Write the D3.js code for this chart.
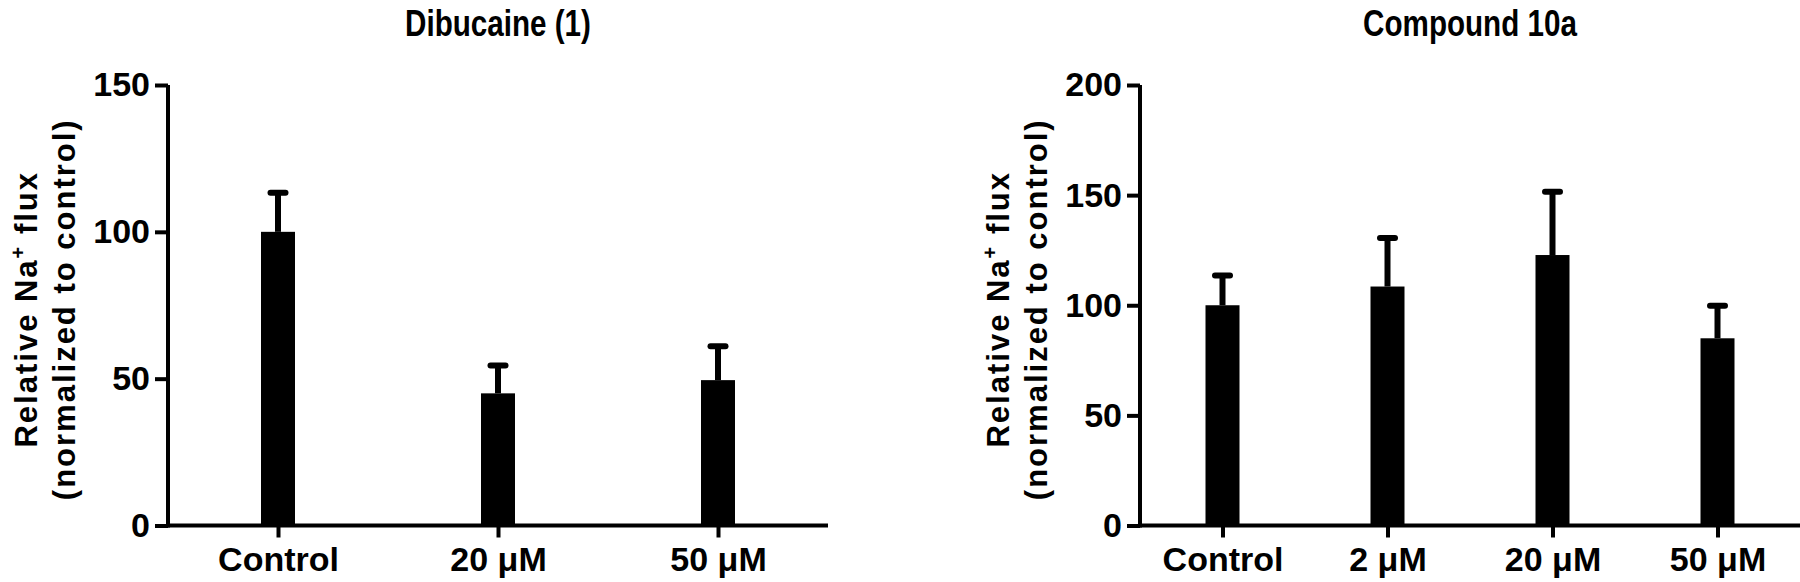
<!DOCTYPE html>
<html>
<head>
<meta charset="utf-8">
<script src="https://cdn.jsdelivr.net/npm/d3@7"></script>
<style>
  body { margin: 0; background: #fff; }
  svg text { font-family: "Liberation Sans", Arial, sans-serif; font-weight: bold; fill: #000; }
</style>
</head>
<body>
<div id="chart"></div>
<script>
// left panel: dibucaine
var dibCats = ["Control", "20 \u03bcM", "50 \u03bcM"];
var dibMeans = [100, 45, 49.5];
var dibErr = [13.3, 9.5, 11.5];
var dibTicks = [0, 50, 100, 150];

// right panel: compound 10a
var cmpCats = ["Control", "2 \u03bcM", "20 \u03bcM", "50 \u03bcM"];
var cmpMeans = [100, 108.5, 122.8, 85];
var cmpErr = [13.5, 22, 28.7, 14.8];
var cmpTicks = [0, 50, 100, 150, 200];

var width = 1800, height = 582;
var plotTop = 85, plotBottom = 525.5, plotW = 660;

var svg = d3.select("#chart")
    .append("svg")
    .attr("width", width)
    .attr("height", height);

function drawPanel(x0, cats, means, errs, ticks, title)
{
    var xScale = d3.scalePoint()
        .domain(cats)
        .range([x0, x0 + plotW])
        .padding(0.5);

    var yScale = d3.scaleLinear()
        .domain([0, d3.max(ticks)])
        .range([plotBottom, plotTop]);

    var g = svg.append("g");

    // bars
    g.selectAll(".bar")
        .data(cats)
        .enter().append("rect")
        .attr("x", function(d) { return xScale(d) - 17; })
        .attr("width", 34)
        .attr("y", function(d, i) { return yScale(means[i]); })
        .attr("height", function(d, i) { return plotBottom - yScale(means[i]); })
        .attr("fill", "#000");

    // error bars (upper only)
    g.selectAll(".stem")
        .data(cats)
        .enter().append("line")
        .attr("x1", function(d) { return xScale(d); })
        .attr("x2", function(d) { return xScale(d); })
        .attr("y1", function(d, i) { return yScale(means[i]); })
        .attr("y2", function(d, i) { return yScale(means[i] + errs[i]); })
        .attr("stroke", "#000")
        .attr("stroke-width", 6);

    g.selectAll(".cap")
        .data(cats)
        .enter().append("line")
        .attr("x1", function(d) { return xScale(d) - 7.5; })
        .attr("x2", function(d) { return xScale(d) + 7.5; })
        .attr("y1", function(d, i) { return yScale(means[i] + errs[i]); })
        .attr("y2", function(d, i) { return yScale(means[i] + errs[i]); })
        .attr("stroke", "#000")
        .attr("stroke-width", 6)
        .attr("stroke-linecap", "round");

    // axes
    var yAxis = d3.axisLeft(yScale)
        .tickValues(ticks)
        .tickSize(13)
        .tickSizeOuter(0)
        .tickPadding(5);

    var xAxis = d3.axisBottom(xScale)
        .tickSize(12)
        .tickSizeOuter(0)
        .tickPadding(9);

    var ya = g.append("g")
        .attr("transform", "translate(" + x0 + ",0)")
        .call(yAxis);

    var xa = g.append("g")
        .attr("transform", "translate(0," + plotBottom + ")")
        .call(xAxis);

    [ya, xa].forEach(function(a) {
        a.select(".domain").attr("stroke-width", 4).attr("stroke", "#000");
        a.selectAll(".tick line").attr("stroke-width", 4).attr("stroke", "#000");
        a.selectAll(".tick text")
            .style("font-size", "34px")
            .attr("fill", "#000");
    });
    xa.select(".domain").attr("d", "M" + (x0 - 2) + ",0H" + (x0 + plotW));
    ya.select(".domain").attr("d", "M0," + plotTop + "V" + (plotBottom + 2));

    // title (condensed like the original)
    g.append("text")
        .attr("transform", "translate(" + (x0 + plotW / 2) + ",36) scale(0.8,1)")
        .attr("text-anchor", "middle")
        .style("font-size", "37px")
        .text(title);

    // y label, two lines
    var mid = (plotTop + plotBottom) / 2 + 4;
    var l1 = g.append("text")
        .attr("transform", "translate(" + (x0 - 131) + "," + mid + ") rotate(-90)")
        .attr("text-anchor", "middle")
        .style("font-size", "31px")
        .style("letter-spacing", "2px");
    l1.append("tspan").text("Relative Na");
    l1.append("tspan").attr("dy", -12).style("font-size", "20px").text("+");
    l1.append("tspan").attr("dy", 12).text(" flux");

    g.append("text")
        .attr("transform", "translate(" + (x0 - 93) + "," + mid + ") rotate(-90)")
        .attr("text-anchor", "middle")
        .style("font-size", "31px")
        .style("letter-spacing", "2px")
        .text("(normalized to control)");
}

drawPanel(168, dibCats, dibMeans, dibErr, dibTicks, "Dibucaine (1)");
drawPanel(1140, cmpCats, cmpMeans, cmpErr, cmpTicks, "Compound 10a");
</script>
</body>
</html>
